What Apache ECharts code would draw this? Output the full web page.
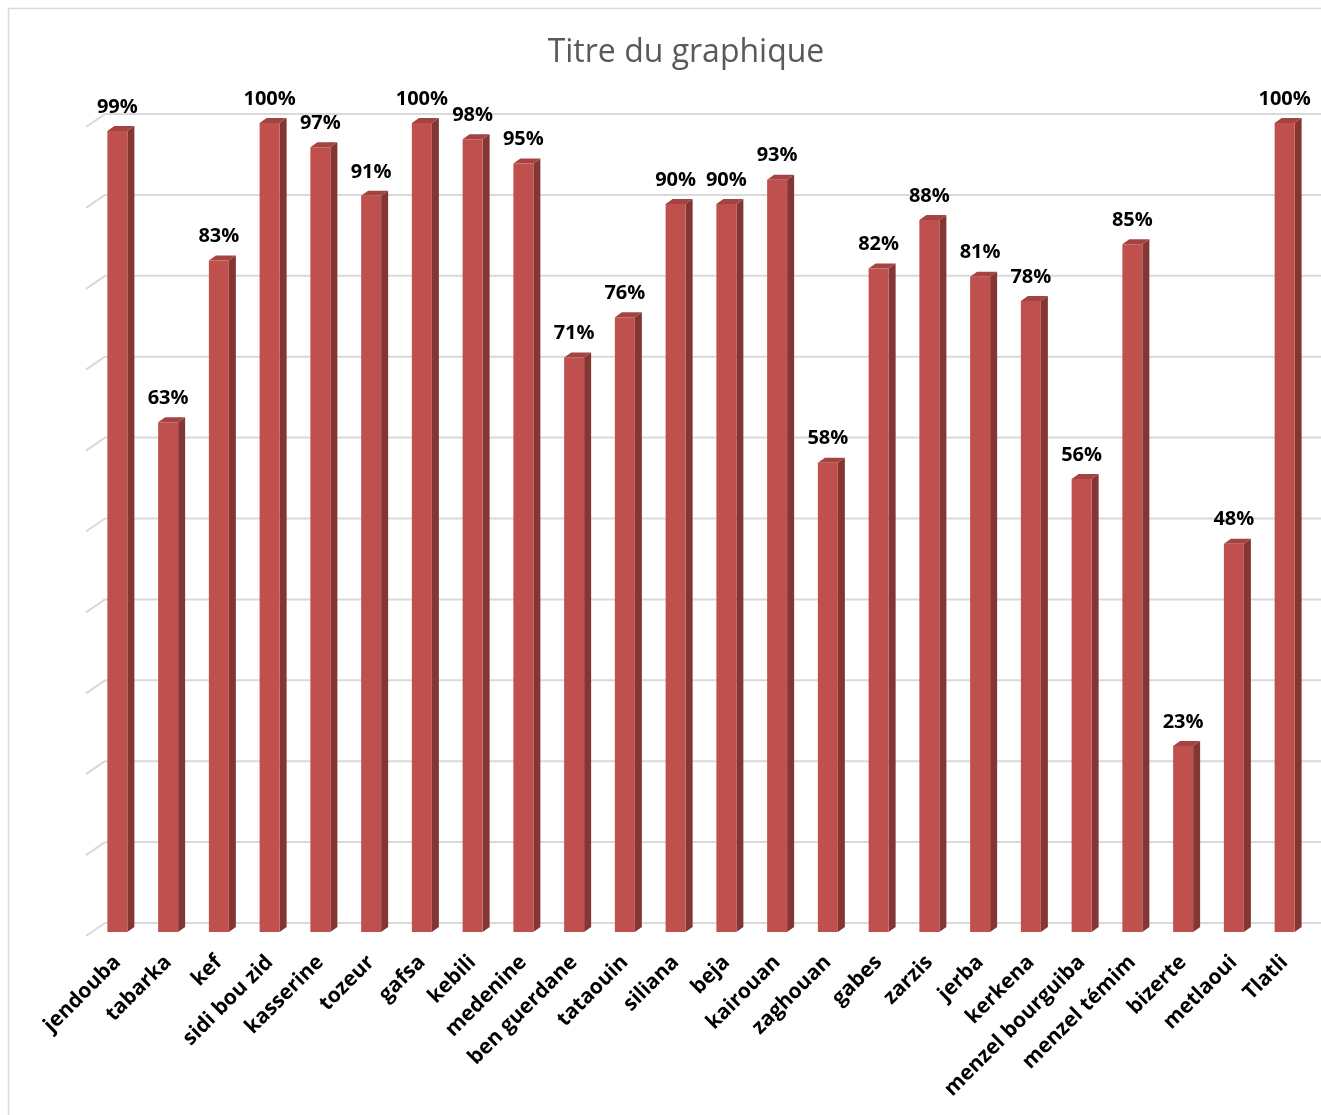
<!DOCTYPE html>
<html>
<head>
<meta charset="utf-8">
<title>Titre du graphique</title>
<script src="https://cdn.jsdelivr.net/npm/echarts@6/dist/echarts.min.js"></script>
<style>
    html, body { margin: 0; padding: 0; background: #fff; }
    #chart { width: 1321px; height: 1115px; }
</style>
</head>
<body>
<div id="chart"></div>
<script>
    // categories and values
    var categories = ['jendouba', 'tabarka', 'kef', 'sidi bou zid', 'kasserine', 'tozeur', 'gafsa', 'kebili',
        'medenine', 'ben guerdane', 'tataouin', 'siliana', 'beja', 'kairouan', 'zaghouan', 'gabes', 'zarzis',
        'jerba', 'kerkena', 'menzel bourguiba', 'menzel témim', 'bizerte', 'metlaoui', 'Tlatli'];
    var rates = [0.99, 0.63, 0.83, 1.00, 0.97, 0.91, 1.00, 0.98, 0.95, 0.71, 0.76, 0.90, 0.90, 0.93,
        0.58, 0.82, 0.88, 0.81, 0.78, 0.56, 0.85, 0.23, 0.48, 1.00];
    var gridTicks = [0, 0.1, 0.2, 0.3, 0.4, 0.5, 0.6, 0.7, 0.8, 0.9, 1.0];

    var chart = echarts.init(document.getElementById('chart'));

    // 3D-looking column: front face, side face, top face, label
    function drawColumn(params, api) {
        var top = api.coord([api.value(0), api.value(1)]);
        var base = api.coord([api.value(0), 0]);
        var x = top[0], yt = top[1], yb = base[1];
        var hw = 10, d = 7, dy = 5;
        return {
            type: 'group',
            children: [
                {type: 'polygon', shape: {points: [[x + hw, yt], [x + hw + d, yt - dy], [x + hw + d, yb - dy], [x + hw, yb]]},
                    style: {fill: '#843634'}},
                {type: 'polygon', shape: {points: [[x - hw, yt], [x - hw + d, yt - dy], [x + hw + d, yt - dy], [x + hw, yt]]},
                    style: {fill: '#a34442'}},
                {type: 'rect', shape: {x: x - hw, y: yt, width: hw * 2, height: yb - yt},
                    style: {fill: '#c0504d'}},
                {type: 'text', x: x, y: yt - 24,
                    style: {text: Math.round(api.value(1) * 100) + '%', textAlign: 'center', textVerticalAlign: 'middle',
                        font: 'bold 20px "Open Sans"', fill: '#000'}}
            ]
        };
    }

    // back-wall gridlines with the slanted side-wall piece on the left
    function drawGridLine(params, api) {
        var cs = params.coordSys;
        var y = api.coord([0, api.value(1)])[1] - 9;
        var x0 = cs.x + 13;
        var st = {stroke: '#d9d9d9', lineWidth: 2};
        return {
            type: 'group',
            children: [
                {type: 'line', shape: {x1: x0, y1: y, x2: 1400, y2: y}, style: st},
                {type: 'line', shape: {x1: x0, y1: y, x2: x0 - 19, y2: y + 13}, style: st}
            ]
        };
    }

    chart.setOption({
        animation: false,
        graphic: [
            {
                type: 'polyline',
                shape: {points: [[8.5, 1200], [8.5, 8.5], [1400, 8.5]]},
                style: {fill: 'none', stroke: '#d9d9d9', lineWidth: 1.5}
            },
            {
                type: 'text',
                x: 686,
                y: 53,
                style: {text: 'Titre du graphique', textAlign: 'center', textVerticalAlign: 'middle',
                    font: '32px "Open Sans"', fill: '#595959'}
            }
        ],
        grid: {left: 92, right: 11, top: 123, bottom: 183},
        xAxis: {
            type: 'category',
            data: categories,
            axisLine: {show: false},
            axisTick: {show: false},
            axisLabel: {
                rotate: 45,
                margin: 27,
                interval: 0,
                fontFamily: 'Open Sans',
                fontWeight: 'bold',
                fontSize: 21,
                color: '#000'
            }
        },
        yAxis: {
            type: 'value',
            min: 0,
            max: 1,
            interval: 0.1,
            axisLabel: {show: false},
            axisLine: {show: false},
            axisTick: {show: false},
            splitLine: {show: false}
        },
        series: [
            {
                type: 'custom',
                z: 1,
                renderItem: drawGridLine,
                data: gridTicks.map(function (v) { return [0, v]; })
            },
            {
                type: 'custom',
                z: 2,
                renderItem: drawColumn,
                encode: {x: 0, y: 1},
                data: rates.map(function (v, i) { return [i, v]; })
            }
        ]
    });
</script>
</body>
</html>
